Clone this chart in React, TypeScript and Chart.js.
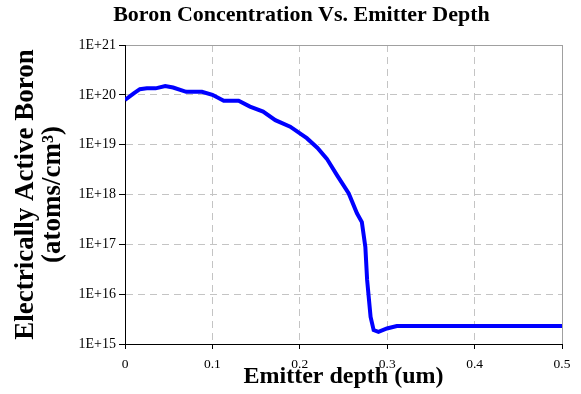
import React, { useEffect, useRef } from 'react';
import { Chart, registerables } from 'chart.js';

Chart.register(...registerables);

const depthUm = [0, 0.01, 0.017, 0.025, 0.035, 0.046, 0.055, 0.07, 0.088, 0.1, 0.113, 0.13, 0.143, 0.158, 0.172, 0.189, 0.208, 0.22, 0.231, 0.2425, 0.256, 0.2654, 0.271, 0.275, 0.277, 0.281, 0.2845, 0.29, 0.2997, 0.311, 0.5];
const boronConc = [7.9e19, 1.07e20, 1.3e20, 1.35e20, 1.35e20, 1.5e20, 1.4e20, 1.15e20, 1.15e20, 1.0e20, 7.6e19, 7.6e19, 5.8e19, 4.6e19, 3.1e19, 2.3e19, 1.35e19, 8.7e18, 5.2e18, 2.45e18, 1.05e18, 4.2e17, 2.8e17, 8.9e16, 1.95e16, 3.5e15, 1.9e15, 1.75e15, 2.05e15, 2.3e15, 2.3e15];
const yTickExponents = [15, 16, 17, 18, 19, 20, 21];
const xTickValues = [0, 0.1, 0.2, 0.3, 0.4, 0.5];

const chartTitle = 'Boron Concentration Vs. Emitter Depth';
const xTitle = 'Emitter depth (um)';
const yTitle = ['Electrically Active Boron', '(atoms/cm³)'];

const SERIF = '"Liberation Serif", "Times New Roman", serif';

export default function App() {
  const ref = useRef<HTMLCanvasElement | null>(null);

  useEffect(() => {
    if (!ref.current) return;
    const points = depthUm.map((x, i) => ({ x, y: boronConc[i] }));
    const dash = [7, 5];
    const chart = new Chart(ref.current, {
      type: 'line',
      data: {
        datasets: [
          {
            data: points,
            borderColor: '#0000ff',
            borderWidth: 4,
            pointRadius: 0,
            tension: 0,
            fill: false,
          },
        ],
      },
      options: {
        animation: false,
        responsive: false,
        events: [],
        layout: { padding: { left: 41, right: 19, top: 0, bottom: 0 } },
        plugins: {
          legend: { display: false },
          tooltip: { enabled: false },
          title: {
            display: true,
            text: chartTitle,
            color: '#000',
            font: { family: SERIF, size: 22, weight: 'bold', lineHeight: 1.2 },
            padding: { top: 2.5, bottom: 16.1 },
          },
        },
        scales: {
          x: {
            type: 'linear',
            min: 0,
            max: 0.5,
            afterBuildTicks: (s: any) => {
              s.ticks = xTickValues.map((v) => ({ value: v }));
            },
            afterFit: (s: any) => {
              s.height = 50;
            },
            ticks: {
              color: '#000',
              font: { family: SERIF, size: 13.5 },
              padding: 7,
              maxRotation: 0,
              callback: (v: any) => String(v),
            },
            grid: {
              color: (c: any) => (c.tick && c.tick.value === 0.5 ? '#a0a0a0' : '#c4c4c4'),
              lineWidth: 1,
              tickLength: 5,
              tickColor: '#000',
            },
            border: {
              display: true,
              color: '#000',
              width: 1,
              dash: (c: any) => (c.tick && c.tick.value === 0.5 ? [] : dash),
            },
            title: {
              display: true,
              text: xTitle,
              color: '#000',
              font: { family: SERIF, size: 24, weight: 'bold', lineHeight: 1.2 },
              padding: { top: 0, bottom: 3 },
            },
          },
          y: {
            type: 'logarithmic',
            min: 1e15,
            max: 1e21,
            afterBuildTicks: (s: any) => {
              s.ticks = yTickExponents.map((e) => ({ value: Math.pow(10, e) }));
            },
            afterFit: (s: any) => {
              s.width = 84;
            },
            ticks: {
              color: '#000',
              font: { family: SERIF, size: 14 },
              padding: 3,
              callback: (v: any) => '1E+' + Math.round(Math.log10(Number(v))),
            },
            grid: {
              color: (c: any) => (c.tick && c.tick.value === 1e21 ? '#a0a0a0' : '#c4c4c4'),
              lineWidth: 1,
              tickLength: 6,
              tickColor: '#000',
            },
            border: {
              display: true,
              color: '#000',
              width: 1,
              dash: (c: any) => (c.tick && c.tick.value === 1e21 ? [] : dash),
            },
            title: {
              display: true,
              text: yTitle,
              color: '#000',
              font: { family: SERIF, size: 27, weight: 'bold', lineHeight: '27px' },
              padding: { top: -28.5, bottom: 0 },
            },
          },
        },
      },
    } as any);
    return () => chart.destroy();
  }, []);

  return (
    <div style={{ position: 'absolute', left: 0, top: 0, width: 581, height: 394 }}>
      <canvas ref={ref} width={581} height={394} style={{ display: 'block' }} />
    </div>
  );
}
